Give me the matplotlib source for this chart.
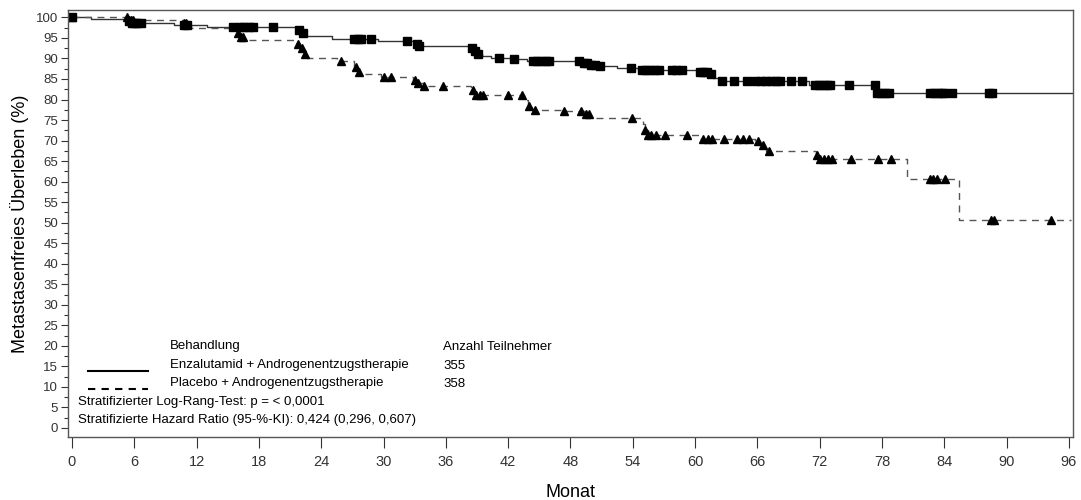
import numpy as np
import matplotlib.pyplot as plt
from matplotlib.ticker import MultipleLocator

# Kaplan-Meier steps (month, survival %)
enza_t = [0, 1.8, 5.3, 5.8, 9.8, 13.0, 21.8, 22.1, 22.4, 25.0, 29.5, 33.1, 33.3,
          38.4, 38.7, 39.0, 39.5, 40.3, 42.5, 43.8, 49.2, 49.8, 50.6, 52.5, 54.5,
          60.5, 61.2, 61.7, 62.3, 71.0, 77.4, 96.3]
enza_s = [100, 99.6, 99.0, 98.6, 98.1, 97.7, 97.0, 96.3, 95.5, 94.8, 94.2, 93.6, 93.0,
          92.5, 91.8, 91.2, 90.6, 90.1, 89.8, 89.3, 88.9, 88.5, 88.1, 87.6, 87.2,
          86.8, 86.2, 85.2, 84.6, 83.6, 81.6, 81.6]
enza_cens = [0, 5.5, 5.8, 6.0, 6.3, 6.6, 10.8, 11.1, 15.5, 16.2, 16.6, 17.0, 17.4, 19.4,
             21.9, 22.2, 27.2, 27.5, 27.8, 28.8, 32.3, 33.2, 33.4, 38.5, 38.8, 39.1,
             41.1, 42.6, 44.4, 44.8, 45.2, 45.6, 45.9, 48.8, 49.3, 49.6, 50.0, 50.4,
             50.8, 53.8, 54.9, 55.3, 55.7, 56.1, 56.5, 57.8, 58.2, 58.7, 60.5, 60.8,
             61.1, 61.5, 62.6, 63.7, 65.0, 65.8, 66.3, 66.8, 67.3, 67.8, 68.2, 69.2,
             70.3, 71.5, 71.9, 72.3, 72.7, 73.0, 74.8, 77.3, 77.5, 77.9, 78.3, 78.7,
             82.6, 83.0, 83.4, 83.8, 84.0, 84.7, 88.3, 88.6]

plac_t = [0, 5.5, 10.8, 11.2, 11.5, 16.0, 16.3, 16.6, 21.7, 22.0, 22.3, 22.6, 25.5,
          27.2, 27.5, 28.0, 29.8, 32.8, 33.2, 33.8, 38.4, 38.7, 43.5, 43.9, 44.3,
          47.2, 49.5, 49.9, 55.0, 55.2, 55.5, 60.5, 65.8, 66.2, 66.8, 71.6, 71.9,
          80.4, 85.4, 96.2]
plac_s = [100, 99.4, 98.6, 98.1, 97.5, 96.2, 95.2, 94.6, 93.6, 92.5, 91.2, 90.1, 89.3,
          88.0, 86.8, 86.1, 85.6, 84.8, 83.9, 83.4, 82.3, 81.0, 79.8, 78.3, 77.4,
          77.2, 76.5, 75.4, 74.0, 72.5, 71.3, 70.5, 69.8, 68.8, 67.4, 66.4, 65.4,
          60.6, 50.6, 50.6]
plac_cens = [0, 5.3, 5.5, 5.7, 5.9, 10.8, 11.0, 16.0, 16.3, 16.5, 21.8, 22.1, 22.4,
             25.9, 27.3, 27.6, 30.0, 30.7, 33.0, 33.3, 33.9, 35.7, 38.6, 38.9, 39.3,
             39.6, 42.0, 43.3, 44.0, 44.6, 47.4, 49.0, 49.5, 49.8, 53.9, 55.2, 55.5,
             55.8, 56.2, 57.1, 59.2, 60.8, 61.2, 61.6, 62.8, 64.0, 64.6, 65.2, 66.1,
             66.5, 67.1, 71.7, 72.0, 72.4, 72.8, 73.2, 75.0, 77.6, 78.9, 82.6, 82.9,
             83.3, 84.1, 88.5, 88.8, 94.3]

x_ticks = list(range(0, 97, 6))
y_ticks = list(range(0, 101, 5))


def step_value(times, surv, c):
    # value of the step curve at the censoring times
    idx = np.searchsorted(times, c, side='right') - 1
    return np.asarray(surv)[idx]


plt.rcParams['font.family'] = ['Liberation Sans', 'DejaVu Sans']

fig = plt.figure(figsize=(10.81, 5.0), dpi=100)
ax = fig.add_axes([68 / 1081, 63 / 500, 1005 / 1081, 427 / 500])

ax.step(enza_t, enza_s, where='post', color='#333333', lw=1.0, ls='-')
ax.step(plac_t, plac_s, where='post', color='#555555', lw=1.0, ls=(0, (5, 4)))
ax.plot(enza_cens, step_value(enza_t, enza_s, enza_cens), 's', color='black',
        ms=6, ls='none')
ax.plot(plac_cens, step_value(plac_t, plac_s, plac_cens), '^', color='black',
        ms=6, ls='none')

ax.set_xlim(-0.385, 96.39)
ax.set_ylim(-2.2, 101.8)
ax.set_xticks(x_ticks)
ax.set_yticks(y_ticks)
ax.yaxis.set_minor_locator(MultipleLocator(2.5))
ax.set_xticklabels([str(v) for v in x_ticks], fontsize=10.5, color='#333333')
ax.set_yticklabels([str(v) for v in y_ticks], fontsize=9.5, color='#333333')
ax.tick_params(axis='x', length=8, width=0.8, pad=5, colors='#333333')
ax.tick_params(axis='y', which='major', length=5, width=0.8, pad=2, colors='#333333')
ax.tick_params(axis='y', which='minor', length=3, width=0.8, colors='#333333')
for sp in ax.spines.values():
    sp.set_color('#555555')
    sp.set_linewidth(1.0)

ax.set_ylabel('Metastasenfreies Überleben (%)', fontsize=13, labelpad=5)
ax.set_xlabel('Monat', fontsize=13, labelpad=11)

# legend block drawn inside the axes
fs = 9.5
tr = ax.transAxes
def px(x, y):
    return ((x - 68) / 1005, (437 - y) / 427)

ax.text(*px(170, 346), 'Behandlung', transform=tr, fontsize=fs, va='center')
ax.text(*px(170, 365), 'Enzalutamid + Androgenentzugstherapie', transform=tr,
        fontsize=fs, va='center')
ax.text(*px(170, 383), 'Placebo + Androgenentzugstherapie', transform=tr,
        fontsize=fs, va='center')
ax.text(*px(443, 347), 'Anzahl Teilnehmer', transform=tr, fontsize=fs, va='center')
ax.text(*px(443, 366), '355', transform=tr, fontsize=fs, va='center')
ax.text(*px(443, 384), '358', transform=tr, fontsize=fs, va='center')
ax.text(*px(78, 402), 'Stratifizierter Log-Rang-Test: p = < 0,0001', transform=tr,
        fontsize=fs, va='center')
ax.text(*px(78, 420), 'Stratifizierte Hazard Ratio (95-%-KI): 0,424 (0,296, 0,607)',
        transform=tr, fontsize=fs, va='center')
x0, y0 = px(88, 371)
x1, _ = px(148, 371)
ax.plot([x0, x1], [y0, y0], transform=tr, color='black', lw=1.5)
x0, y0 = px(88, 389)
ax.plot([x0, x1], [y0, y0], transform=tr, color='black', lw=1.5, ls=(0, (3.5, 3)))

fig.savefig('out.png', dpi=100)
